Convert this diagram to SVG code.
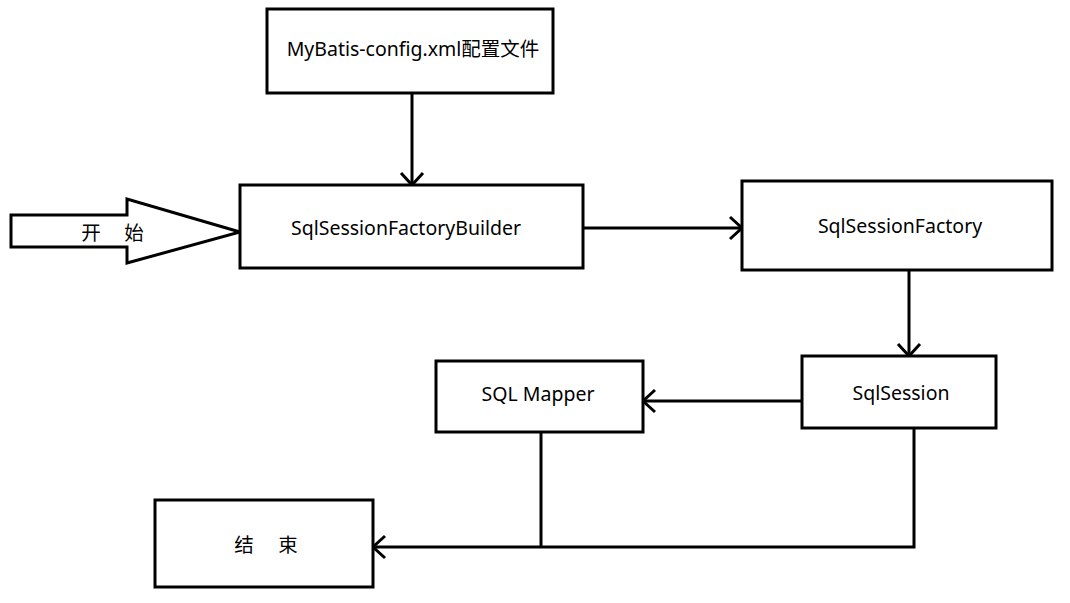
<svg xmlns="http://www.w3.org/2000/svg" width="1070" height="603" viewBox="0 0 1070 603">
<style>
.box{fill:#fff;stroke:#000;stroke-width:3}
.t{font-family:"Noto Sans","Noto Sans CJK SC",sans-serif;font-size:19.5px;fill:#000;text-anchor:middle;dominant-baseline:central}
.c{fill:none;stroke:#000;stroke-width:3}
</style>
<defs>
<marker id="a" markerUnits="userSpaceOnUse" markerWidth="20" markerHeight="30" refX="14" refY="12" orient="auto" viewBox="0 0 20 24">
<path d="M2,1 L14,12 L2,23" fill="none" stroke="#000" stroke-width="3"/>
</marker>
</defs>
<rect width="1070" height="603" fill="#fff"/>
<g id="connectors">
<path class="c" d="M412,93 V185" marker-end="url(#a)"/>
<path class="c" d="M583,228 H742" marker-end="url(#a)"/>
<path class="c" d="M909,270 V356" marker-end="url(#a)"/>
<path class="c" d="M802,401 H643" marker-end="url(#a)"/>
<path class="c" d="M541,432 V547"/>
<path class="c" d="M914,428 V547 H373" marker-end="url(#a)"/>
</g>
<g id="start">
<polygon class="box" points="11,215 127,215 127,199 240,232 127,263 127,247 11,247"/>
<text class="t" x="91" y="232">开</text>
<text class="t" x="134" y="232">始</text>
</g>
<g id="config">
<rect class="box" x="267" y="9" width="286" height="84"/>
<text class="t" x="413" y="48">MyBatis-config.xml配置文件</text>
</g>
<g id="builder">
<rect class="box" x="240" y="185" width="343" height="83"/>
<text class="t" x="406" y="227">SqlSessionFactoryBuilder</text>
</g>
<g id="factory">
<rect class="box" x="742" y="181" width="310" height="89"/>
<text class="t" x="900" y="225">SqlSessionFactory</text>
</g>
<g id="session">
<rect class="box" x="802" y="356" width="194" height="72"/>
<text class="t" x="901" y="392">SqlSession</text>
</g>
<g id="mapper">
<rect class="box" x="436" y="361" width="207" height="71"/>
<text class="t" x="538" y="393">SQL Mapper</text>
</g>
<g id="end">
<rect class="box" x="155" y="500" width="218" height="87"/>
<text class="t" x="244" y="544">结</text>
<text class="t" x="288" y="544">束</text>
</g>
</svg>
